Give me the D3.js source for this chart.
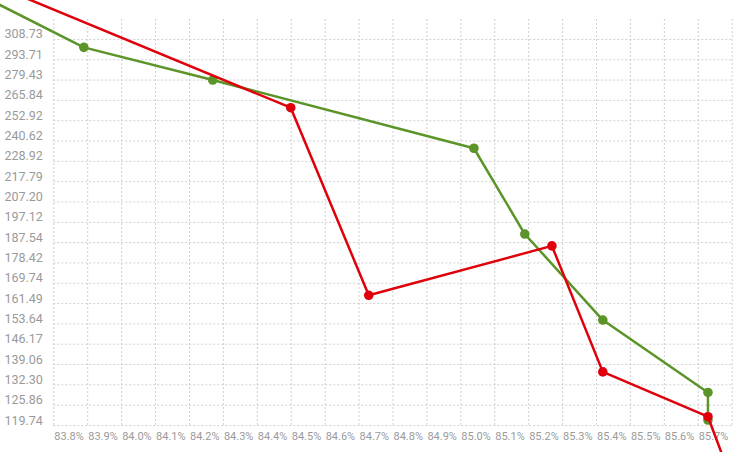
<!DOCTYPE html>
<html>
<head>
<meta charset="utf-8">
<script src="https://cdn.jsdelivr.net/npm/d3@7/dist/d3.min.js"></script>
<style>
  html, body { margin: 0; padding: 0; background: #fff; }
  svg { display: block; }
  .tick text { fill: #9a9a9a; font-family: Roboto, "Open Sans", sans-serif; }
</style>
</head>
<body>
<svg id="chart" width="735" height="452"></svg>
<script>
// ---- data ----
const xTickValues = [83.8, 83.9, 84.0, 84.1, 84.2, 84.3, 84.4, 84.5, 84.6, 84.7, 84.8, 84.9, 85.0, 85.1, 85.2, 85.3, 85.4, 85.5, 85.6, 85.7, 85.8];
const xTickLabels = ["83.8%", "83.9%", "84.0%", "84.1%", "84.2%", "84.3%", "84.4%", "84.5%", "84.6%", "84.7%", "84.8%", "84.9%", "85.0%", "85.1%", "85.2%", "85.3%", "85.4%", "85.5%", "85.6%", "85.7%", ""];
const yTickLabels = ["119.74", "125.86", "132.30", "139.06", "146.17", "153.64", "161.49", "169.74", "178.42", "187.54", "197.12", "207.20", "217.79", "228.92", "240.62", "252.92", "265.84", "279.43", "293.71", "308.73"];
const yTop = 324.51;

const greenX = [83.60, 83.89, 84.27, 85.04, 85.19, 85.42, 85.73, 85.73];
const greenY = [341.6, 302.4, 279.1, 236.1, 191.3, 154.9, 129.7, 121.2];
const redX = [83.58, 84.50, 84.73, 85.27, 85.42, 85.73, 85.80];
const redY = [358.0, 260.8, 164.6, 185.8, 136.4, 122.2, 104.6];

// ---- layout ----
const svg = d3.select("#chart");
const plotLeft = 53.3, plotRight = 731.7, plotTop = 18.6, plotBottom = 425;
const yTickValues = yTickLabels.map(Number);

const x = d3.scaleLinear().domain([xTickValues[0], xTickValues[xTickValues.length - 1]]).range([plotLeft, plotRight]);
const y = d3.scaleLog().domain([yTickValues[0], yTop]).range([plotBottom, plotTop]);

// x axis with vertical grid
const xAxis = d3.axisBottom(x)
  .tickValues(xTickValues)
  .tickFormat((d, i) => xTickLabels[i])
  .tickSize(-(plotBottom - plotTop))
  .tickPadding(0);
const gx = svg.append("g").attr("transform", `translate(0,${plotBottom})`).call(xAxis);
gx.select(".domain").remove();
gx.selectAll(".tick line").attr("stroke", "#cfcfcf").attr("stroke-dasharray", "2,2").attr("stroke-width", 1);
gx.selectAll(".tick text").attr("text-anchor", "start").attr("x", 0.5).attr("y", 14.5).attr("dy", 0)
  .style("font-size", "11px");

// y axis with horizontal grid
const yAxis = d3.axisLeft(y)
  .tickValues(yTickValues)
  .tickFormat((d, i) => yTickLabels[i])
  .tickSize(-(plotRight - plotLeft))
  .tickPadding(0);
const gy = svg.append("g").attr("transform", `translate(${plotLeft},0)`).call(yAxis);
gy.select(".domain").remove();
gy.selectAll(".tick line").attr("stroke", "#cfcfcf").attr("stroke-dasharray", "2,2").attr("stroke-width", 1);
gy.selectAll(".tick text").attr("text-anchor", "end").attr("x", -10.5).attr("y", -1).attr("dy", 0)
  .style("font-size", "12.5px");

// series
const series = [
  { xs: greenX, ys: greenY, color: "#5b9428" },
  { xs: redX, ys: redY, color: "#e0000b" }
];
const line = d3.line().x(d => x(d[0])).y(d => y(d[1]));
series.forEach(s => {
  const pts = s.xs.map((v, i) => [v, s.ys[i]]);
  const g = svg.append("g");
  g.append("path").datum(pts).attr("d", line)
    .attr("fill", "none").attr("stroke", s.color).attr("stroke-width", 2.5)
    .attr("stroke-linejoin", "round");
  g.selectAll("circle").data(pts).join("circle")
    .attr("cx", d => x(d[0])).attr("cy", d => y(d[1])).attr("r", 4.8)
    .attr("fill", s.color);
});
</script>
</body>
</html>
